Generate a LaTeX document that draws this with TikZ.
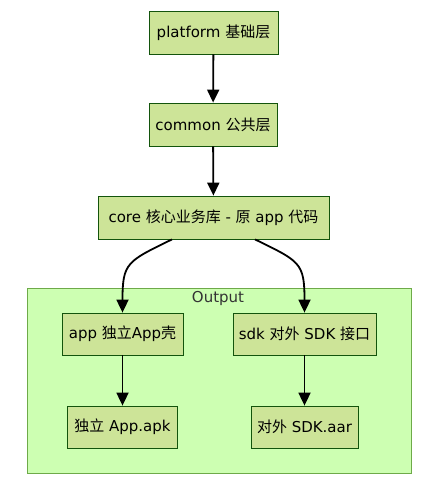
\documentclass[tikz,border=0pt]{standalone}
\usepackage{fontspec}
\setmainfont{DejaVu Sans}
\newfontfamily\cjk{Noto Sans CJK SC}
\usepackage{tikz}
\usetikzlibrary{arrows.meta, positioning}

\definecolor{layerfill}{HTML}{CDE498}
\definecolor{layerdraw}{HTML}{13540C}
\definecolor{groupfill}{HTML}{CDFFB2}
\definecolor{groupdraw}{HTML}{6EAA49}
\definecolor{grouptext}{HTML}{333333}

\newcommand{\zh}[1]{{\cjk #1}}

\begin{document}
\begin{tikzpicture}[
        x=1pt, y=1pt,
        % STYLES
        layer/.style={rectangle, draw=layerdraw, fill=layerfill, line width=0.8pt, minimum height=43pt, inner xsep=2pt, align=center, font=\fontsize{15}{18}\selectfont},
        group/.style={draw=groupdraw, fill=groupfill, line width=0.8pt},
        % ARROWS
        flow/.style={-{Triangle[length=13pt, width=12pt]}, line width=1.8pt, black}
    ]
    \useasboundingbox[fill=white] (0,0) rectangle (435,-488);

    % ===================================
    % 1. Output group
    % ===================================
    \draw[group] (27,-288) rectangle (411,-473);
    \node[text=grouptext, font=\fontsize{15}{18}\selectfont] (outlabel) at (218,-298) {Output};

    % ===================================
    % 2. Layers
    % ===================================
    \node[layer, minimum width=129pt] (platform) at (213.5,-32.5) {platform \zh{基础层}};
    \node[layer, minimum width=128pt] (common) at (213,-124.5) {common \zh{公共层}};
    \node[layer, minimum width=231pt] (core) at (213.5,-217.5) {core \zh{核心业务库} - \zh{原} app \zh{代码}};

    % --- Output modules ---
    \node[layer, minimum width=121pt, minimum height=42pt] (app) at (122.5,-334) {app \zh{独立}App\zh{壳}};
    \node[layer, minimum width=143pt, minimum height=42pt] (sdk) at (304.5,-334) {sdk \zh{对外} SDK \zh{接口}};
    \node[layer, minimum width=110pt, minimum height=42pt] (apk) at (122.5,-427) {\zh{独立} App.apk};
    \node[layer, minimum width=107pt, minimum height=42pt] (aar) at (304.5,-427) {\zh{对外} SDK.aar};

    % Fleches entre couches - LIGNES DROITES
    \draw[flow] (platform) -- (common);
    \draw[flow] (common) -- (core);
    \draw[flow] (app) -- (apk);
    \draw[flow] (sdk) -- (aar);

    % Fleches vers Output (COURBES)
    \draw[flow] ([xshift=-41.5pt]core.south) .. controls +(-45,-22) and +(0,50) .. (app.north);
    \draw[flow] ([xshift=41.5pt]core.south) .. controls +(45,-22) and +(0,50) .. (sdk.north);

\end{tikzpicture}
\end{document}
